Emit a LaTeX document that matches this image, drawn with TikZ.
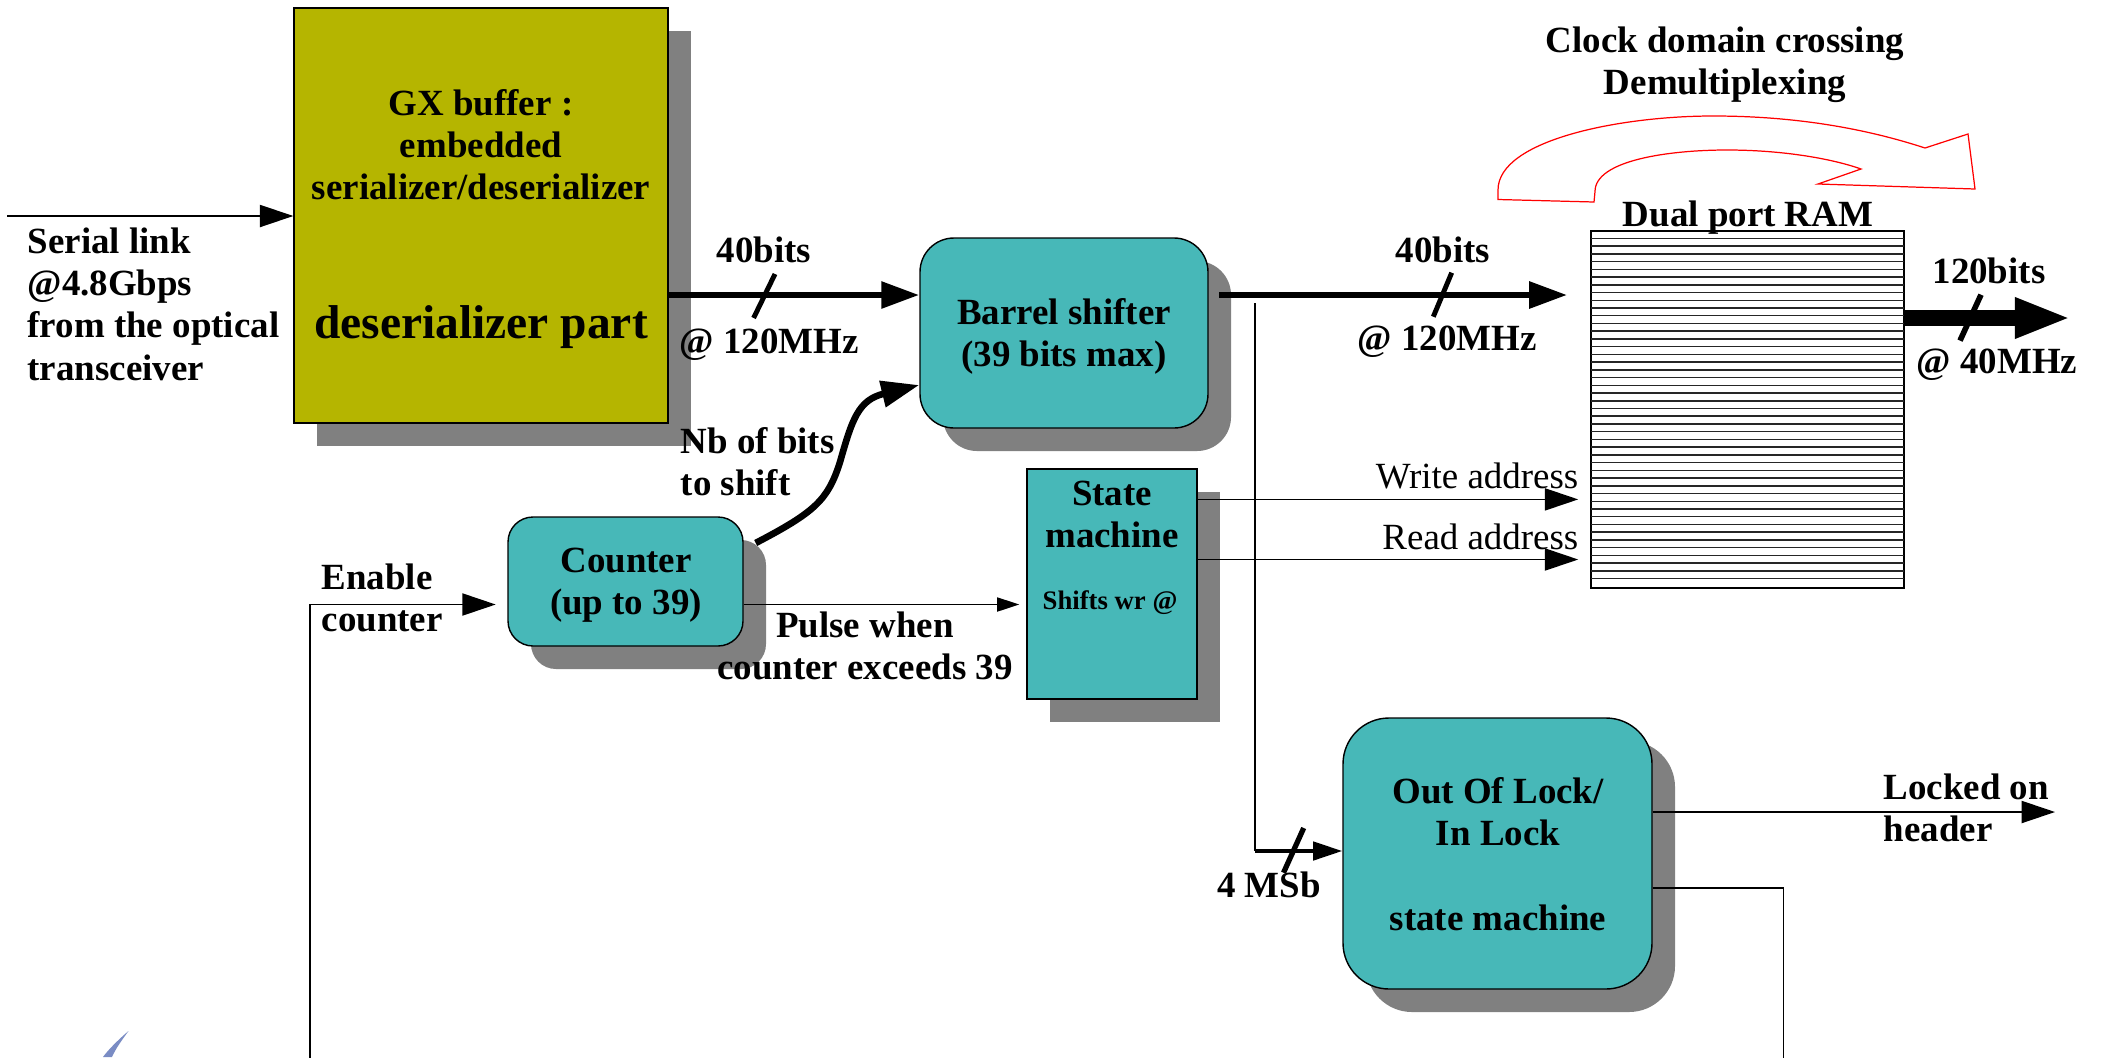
\documentclass[tikz,border=0pt]{standalone}
\usepackage{fontspec}
\setmainfont{Liberation Serif}
\usetikzlibrary{arrows.meta,fit,shadows,calc}

\definecolor{olivebox}{RGB}{181,181,0}
\definecolor{tealbox}{RGB}{71,184,184}
\definecolor{shade}{RGB}{128,128,128}
\definecolor{logoblue}{RGB}{122,140,196}

% text sizes
\newcommand\txtb{\fontsize{10.5}{12.04}\selectfont\bfseries}
\newcommand\txtr{\fontsize{10.5}{12.04}\selectfont}
\newcommand\txtbig{\fontsize{13.5}{16}\selectfont\bfseries}
\newcommand\txtsmall{\fontsize{7.6}{9}\selectfont\bfseries}
% multi-line blocks whose baseline is the first line
\newcommand\linesc[1]{\begin{tabular}[t]{@{}c@{}}#1\end{tabular}}
\newcommand\linesl[1]{\begin{tabular}[t]{@{}l@{}}#1\end{tabular}}

\begin{document}
\begin{tikzpicture}[x=0.01cm,y=-0.01cm,
  block/.style={draw=black, line width=0.4pt, inner sep=0pt,
    drop shadow={shadow xshift=0.23cm, shadow yshift=-0.23cm, fill=shade, opacity=1}},
  gxblock/.style={block, fill=olivebox},
  tealblock/.style={block, fill=tealbox},
  lbl/.style={inner sep=0pt, font=\txtb},
  thinline/.style={line width=0.45pt},
  thinarrow/.style={thinline, -{Triangle[length=9.5pt,width=6.3pt]}},
  pulsearrow/.style={thinline, -{Triangle[length=6.3pt,width=4pt]}},
  busarrow/.style={line width=1.9pt, -{Triangle[length=10.8pt,width=7.3pt]}},
  widearrow/.style={line width=4.3pt, -{Triangle[length=16pt,width=10.6pt]}},
  msbarrow/.style={line width=1.1pt, -{Triangle[length=8.3pt,width=5.2pt]}},
  busslash/.style={line width=1.4pt},
  ramrow/.style={black!85, line width=0.42pt},
]
\fill[white] (0,0) rectangle (2103,1057);
\useasboundingbox (0,0) rectangle (2103,1057);

% ---- blocks ----
\node[gxblock, fit={(294,8) (668,423)}] (gx) {};
\node[tealblock, rounded corners=0.34cm, fit={(920,238) (1208,428)}] (bs) {};
\node[tealblock, rounded corners=0.25cm, fit={(508,517) (743,646)}] (cnt) {};
\node[tealblock, fit={(1027,469) (1197,699)}] (sm) {};
\node[tealblock, rounded corners=0.46cm, fit={(1343,718) (1652,989)}] (ool) {};
\node[draw, thinline, inner sep=0pt, fit={(1591,231) (1904,588)}] (ram) {};

% memory rows of the RAM
\foreach \k in {1,...,45}
  \draw[ramrow] (1591,{230.7+7.73*\k}) -- (1904,{230.7+7.73*\k});

% ---- block texts ----
\node[lbl, anchor=base] (gxt) at (481,115) {\linesc{GX buffer :\\embedded\\serializer/deserializer}};
\node[lbl, anchor=base, font=\txtbig] (gxpart) at (481,338) {deserializer part};
\node[lbl, anchor=base] (bst) at (1064,324) {\linesc{Barrel shifter\\(39 bits max)}};
\node[lbl, anchor=base] (cntt) at (626,572) {\linesc{Counter\\(up to 39)}};
\node[lbl, anchor=base] (smt) at (1112,505) {\linesc{State\\machine}};
\node[lbl, anchor=base, font=\txtsmall] (smshift) at (1110,609) {Shifts wr @};
\node[lbl, anchor=base] (oolt) at (1498,803) {\linesc{Out Of Lock/\\In Lock}};
\node[lbl, anchor=base] (oolsm) at (1498,930) {state machine};
\node[lbl, anchor=base] (ramt) at (1748,226) {Dual port RAM};

% ---- helper levels ----
\coordinate (y295) at (0,295);
\coordinate (y385) at (0,385);
\coordinate (y499) at (0,499.4);
\coordinate (y559) at (0,559.5);
\coordinate (y605) at (0,604.5);
\coordinate (y812) at (0,812);
\coordinate (y851) at (0,851);
\coordinate (y888) at (0,888);

% ---- connectors ----
% serial input
\coordinate (serialsrc) at (7,216);
\draw[thinarrow] (serialsrc) -- (serialsrc -| gx.west);
\node[lbl, anchor=base west] (serialt) at (27,253)
  {\linesl{Serial link\\@4.8Gbps\\from the optical\\transceiver}};

% 40 bit bus into the barrel shifter
\draw[busarrow] (gx.east |- y295) -- (bs.west |- y295);
\draw[busslash] (775,274) -- (753.6,318);
\node[lbl, anchor=base] (b1t) at (764,262) {40bits};
\node[lbl, anchor=base] (f1t) at (769,353) {@ 120MHz};

% 40 bit bus into the RAM
\coordinate (bus2src) at (1219,295);
\draw[busarrow, shorten >=0.23cm] (bus2src) -- (ram.west |- bus2src);
\draw[busslash] (1451.7,272.7) -- (1433.3,316.7);
\node[lbl, anchor=base] (b2t) at (1443,262) {40bits};
\node[lbl, anchor=base] (f2t) at (1447,350) {@ 120MHz};

% 120 bit output bus
\coordinate (outbus) at (2071,318);
\draw[widearrow] (ram.east |- outbus) -- (outbus);
\draw[busslash, line width=1.6pt] (1981,294.7) -- (1960,340.6);
\node[lbl, anchor=base] (b3t) at (1989,283) {120bits};
\node[lbl, anchor=base] (f3t) at (1997,373) {@ 40MHz};

% shift amount from the counter
\coordinate (nbin) at (bs.west |- y385);
\draw[busarrow] ($(cnt.east)+(12,-38.5)$) .. controls (815,512) and (828,500) .. (840,462)
  .. controls (852,420) and (858,400) .. (nbin);
\node[lbl, anchor=base west] (nbt) at (680,453) {\linesl{Nb of bits\\to shift}};

% counter enable
\coordinate (enbot) at (310,1060);
\draw[thinarrow, shorten >=0.116cm] (enbot) |- (cnt.west |- y605);
\node[lbl, anchor=base west] (ent) at (321,589) {\linesl{Enable\\counter}};

% pulse to the state machine
\draw[pulsearrow, shorten >=0.07cm] (cnt.east |- y605) -- (sm.west |- y605);
\node[lbl, anchor=base] (pt) at (865,637) {\linesc{Pulse when\\counter exceeds 39}};

% RAM addresses
\draw[thinarrow, shorten >=0.12cm] (sm.east |- y499) -- (ram.west |- y499);
\node[anchor=base east, inner sep=0pt, font=\txtr] (wat) at (1579,488) {Write address};
\draw[thinarrow, shorten >=0.12cm] (sm.east |- y559) -- (ram.west |- y559);
\node[anchor=base east, inner sep=0pt, font=\txtr] (rat) at (1579,549) {Read address};

% 4 MSb tap to the lock state machine
\coordinate (tap) at (1255,303);
\draw[line width=0.55pt] (tap) -- (tap |- y851);
\draw[msbarrow] (tap |- y851) -- (ool.west |- y851);
\draw[busslash, line width=1.5pt] (1303.7,828) -- (1283.5,872.7);
\node[lbl, anchor=base] (msbt) at (1269,897) {4 MSb};

% lock status outputs
\coordinate (lockedout) at (2055,812);
\draw[thinarrow] (ool.east |- y812) -- (lockedout);
\node[lbl, anchor=base west] (lockt) at (1883,799) {\linesl{Locked on\\header}};
\coordinate (fbbot) at (1783.5,1060);
\draw[thinline] (ool.east |- y888) -| (fbbot);

% clock domain crossing arrow
\draw[red, line width=0.35pt] (1498,199.5) -- (1498,190)
  .. controls (1498,140) and (1620,116) .. (1713,116)
  .. controls (1800,116) and (1870,130) .. (1925,148)
  -- (1968,134) -- (1975,189) -- (1818,184) -- (1861,169)
  .. controls (1830,158) and (1780,150) .. (1727,150)
  .. controls (1670,150) and (1595,160) .. (1595,191.5)
  -- (1594,202) -- cycle;
\node[lbl, anchor=base] (cdct) at (1725,52) {\linesc{Clock domain crossing\\Demultiplexing}};

% corner of a logo
\fill[logoblue] (128.5,1031) .. controls (118,1040) and (108,1050) .. (103,1057)
  -- (112,1057) .. controls (116,1048) and (122,1040) .. cycle;
\end{tikzpicture}
\end{document}
